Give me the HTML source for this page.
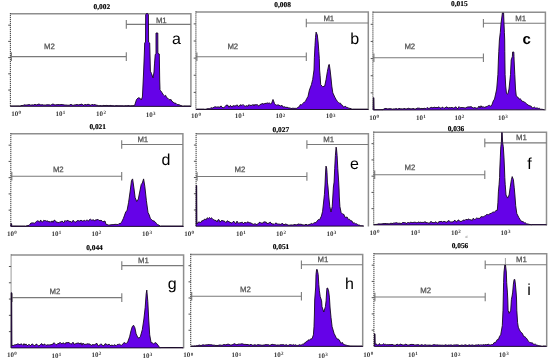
<!DOCTYPE html>
<html><head><meta charset="utf-8"><style>
html,body{margin:0;padding:0;background:#fff;}
svg{display:block;will-change:transform;} text{text-rendering:geometricPrecision;}
.m{font-family:"Liberation Sans",sans-serif;font-size:7.8px;fill:#555;stroke:#555;stroke-width:0.25px;text-anchor:middle;}
.l{font-family:"Liberation Sans",sans-serif;font-size:16px;fill:#000;}
.lb{font-family:"Liberation Sans",sans-serif;font-size:15px;font-weight:bold;fill:#000;}
.t{font-family:"Liberation Serif",serif;font-size:7.4px;font-weight:bold;fill:#000;stroke:#000;stroke-width:0.15px;text-anchor:middle;}
.x{font-family:"Liberation Serif",serif;font-size:7px;fill:#3a3a3a;font-weight:bold;}
.sup{font-size:5px;}
</style></head>
<body>
<svg width="550" height="359" viewBox="0 0 550 359">
<rect width="550" height="359" fill="#fff"/>
<path d="M10.4,13.8 H190.9 V106.7" fill="none" stroke="#8e8e8e" stroke-width="1.5"/>
<path d="M126.3,20.1 V28.7 M126.3,24.4 H190.9" fill="none" stroke="#7a7a7a" stroke-width="1.1"/>
<path d="M11.4,52.3 V60.9 M10.4,56.6 H126.3 M126.3,52.3 V60.9" fill="none" stroke="#7a7a7a" stroke-width="1.1"/>
<line x1="10.4" y1="13.1" x2="10.4" y2="106.3" stroke="#4a4a4a" stroke-width="1.1" stroke-dasharray="1.2 0.8"/>
<line x1="8.2" y1="25.16" x2="10.4" y2="25.16" stroke="#555" stroke-width="1"/>
<line x1="8.2" y1="41.39" x2="10.4" y2="41.39" stroke="#555" stroke-width="1"/>
<line x1="8.2" y1="57.62" x2="10.4" y2="57.62" stroke="#555" stroke-width="1"/>
<line x1="8.2" y1="73.84" x2="10.4" y2="73.84" stroke="#555" stroke-width="1"/>
<line x1="8.2" y1="90.07" x2="10.4" y2="90.07" stroke="#555" stroke-width="1"/>
<path d="M10.4,106.3 L11.47,105.9 L12.53,105.9 L13.6,105.9 L14.67,105.9 L15.73,105.9 L16.8,105.9 L17.87,105.9 L18.93,105.9 L20,106.1 L21,105.7 L22,105.33 L23,105.64 L24,104.9 L25,104.85 L26,105.25 L27,104.82 L28,104.99 L29,104.39 L30,104.95 L31,105.22 L32,104.78 L33,105.03 L34,104.93 L35,104.13 L36,105.01 L37,104.78 L38,104.37 L39,103.99 L40,104.6 L41,105.1 L42,104.57 L43,104.91 L44,105.13 L45,104.91 L46,105.19 L47,104.5 L48,105.04 L49,104.57 L50,105.22 L51,105.15 L52,104.13 L53,104.19 L54,104.3 L55,105.28 L56,104.6 L57,104.85 L58,104.43 L59,104.7 L60,104.7 L61,104.55 L62,104.5 L63,104.79 L64,104.79 L65,105.2 L66,104.91 L67,105.23 L68,105.13 L69,105.3 L70,104.88 L71,104.2 L72,105.12 L73,105.25 L74,105.17 L75,104.72 L76,104.91 L77,104.23 L78,105.06 L79,104.7 L80,104.6 L81,104.32 L82,104.04 L83,105.11 L84,105.3 L85,104.14 L86,105.07 L87,104.59 L88,104.27 L89,104.47 L90,105.08 L91,105.22 L92,104.21 L93,104.92 L94,104.8 L95,104.44 L96,105.28 L97,105.05 L98,105.63 L99,105.79 L100,105.6 L101,105.61 L102,105.89 L103,105.51 L104,105.39 L105,105.68 L106,105.38 L107,105.47 L108,105.59 L109,105.7 L110,105.47 L111,105.42 L112,105.85 L113,105.57 L114,105.9 L115,105.87 L116,105.62 L117,105.67 L118,105.7 L119,105.76 L120,105.7 L121,105.75 L122,105.73 L123,105.76 L124,105.9 L125,105.7 L126,105.67 L127,105.81 L128,105.57 L129,105.6 L130,105.9 L131,105.71 L132,105.72 L133,105.7 L134.6,105.5 L136.5,99.5 L138.3,97.8 L140,98.2 L141.2,100 L142.4,97 L142.8,89 L143.6,72 L144.4,52 L144.7,43 L145.5,42 L145.7,14.5 L147.05,13.23 L148.4,14.5 L148.6,42 L149.7,43 L150,55 L150.4,71.2 L151.5,73.5 L153,77.9 L154,72 L154.5,63.9 L155.2,55 L155.5,54 L156,53.4 L156,33 L157.8,33 L157.9,53.4 L159.3,54 L159.4,60 L159.7,80 L160,89.7 L160.5,90.5 L161.95,92.48 L163.4,94.9 L164.5,95.93 L165.6,95.3 L166.7,97.68 L167.8,98.2 L168.9,99.39 L170,99.9 L171,99.42 L172,101.55 L173,101.79 L174,103.01 L175,103.2 L176,103.33 L177,104.45 L178,104.86 L179,104.45 L180,105.4 L181,105.44 L182,105.9 L183,106.2 L184.13,105.9 L185.26,105.9 L186.39,105.9 L187.51,105.9 L188.64,105.9 L189.77,105.9 L190.9,106.4 Z" fill="#6502e8" stroke="#14061f" stroke-width="0.9" stroke-linejoin="round"/>
<text x="161.3" y="22.5" class="m">M1</text>
<text x="49.4" y="48.6" class="m">M2</text>
<text x="172" y="43.5" class="l">a</text>
<text x="101.9" y="8.5" class="t">0,002</text>
<text x="11.2" y="115.9" class="x">10<tspan class="sup" dx="0.35" dy="-1.9">0</tspan></text>
<text x="55.5" y="116.3" class="x">10<tspan class="sup" dx="0.35" dy="-1.9">1</tspan></text>
<text x="96.1" y="116.1" class="x">10<tspan class="sup" dx="0.35" dy="-1.9">2</tspan></text>
<text x="145.7" y="116.7" class="x">10<tspan class="sup" dx="0.35" dy="-1.9">3</tspan></text>
<path d="M195.9,11.9 H368.3 V109.9" fill="none" stroke="#8e8e8e" stroke-width="1.5"/>
<path d="M306.3,18.7 V27.3 M306.3,23 H368.3" fill="none" stroke="#7a7a7a" stroke-width="1.1"/>
<path d="M196.9,52.5 V61.1 M195.9,56.8 H306.3 M306.3,52.5 V61.1" fill="none" stroke="#7a7a7a" stroke-width="1.1"/>
<line x1="195.9" y1="11.2" x2="195.9" y2="109.5" stroke="#4a4a4a" stroke-width="1.1" stroke-dasharray="1.2 0.8"/>
<line x1="193.7" y1="23.89" x2="195.9" y2="23.89" stroke="#555" stroke-width="1"/>
<line x1="193.7" y1="41.01" x2="195.9" y2="41.01" stroke="#555" stroke-width="1"/>
<line x1="193.7" y1="58.13" x2="195.9" y2="58.13" stroke="#555" stroke-width="1"/>
<line x1="193.7" y1="75.25" x2="195.9" y2="75.25" stroke="#555" stroke-width="1"/>
<line x1="193.7" y1="92.38" x2="195.9" y2="92.38" stroke="#555" stroke-width="1"/>
<path d="M195.9,109.5 L196.91,109.1 L197.92,109.1 L198.93,109.1 L199.94,109.1 L200.96,109.1 L201.97,109.1 L202.98,109.1 L203.99,109.1 L205,109.4 L206,109.1 L207,108.88 L208,108.58 L209,108.87 L210,108.77 L211,107.54 L212,108.32 L213,107.77 L214,107.2 L215,106.77 L216,106.95 L217,107.26 L218,106.75 L219,107.19 L220,107.09 L221,105.86 L222,107.24 L223,107.7 L224,107.64 L225,106.74 L226,105.29 L227,105.12 L228,105.37 L229,107.4 L230,105.69 L231,105.8 L232,107.13 L233,105.56 L234,106.11 L235,105.77 L236,105.88 L237,104.72 L238,106.04 L239,106.68 L240,104.86 L241,105 L242,105.46 L243,104.45 L244,105.62 L245,106.42 L246,105.97 L247,105.62 L248,106.42 L249,104.55 L250,105.61 L251,105.07 L252,105.63 L253,104.33 L254,106.02 L255,104.22 L256,105.24 L257,104.22 L258,105.74 L259,105.96 L260,104.47 L261,104.27 L262,103.68 L263,103.61 L264,104.35 L265,103.06 L266,103.75 L267.1,102.72 L268.2,103.55 L269.3,102.75 L270.4,103.97 L271.5,103.54 L273,99.48 L274.5,103.54 L275.6,104.84 L276.7,105.2 L277.8,104.89 L278.9,105.02 L280,105.88 L281,105.99 L282,105.24 L283,107.2 L284,106.68 L285,106.98 L286,107.58 L287,107.08 L288,107.72 L289,108.01 L290,107.88 L291,108.53 L292,108.4 L293,108.09 L294,108.44 L295.1,108.25 L296.2,108.5 L297.3,107.79 L298.3,107.11 L299.3,106.61 L300.3,104.5 L301.3,104.92 L302.32,104.01 L303.35,103.06 L304.38,102.02 L305.4,101.4 L306.7,98.69 L308,96.4 L309.4,90.1 L311.4,84.7 L312.7,79.4 L314,70 L314.4,57.2 L315,45.5 L315.5,37.4 L316.1,32.1 L317.3,35 L318.1,42 L318.8,51.4 L319.3,58.4 L319.6,70 L320.1,75.4 L320.7,84.7 L322.7,86.7 L324.7,86.1 L326.1,79.4 L327.4,71.4 L328.8,64.7 L329.3,64.5 L330.1,70 L331,78 L331.8,86.1 L332.8,92.82 L334.8,97.14 L336.1,99.49 L337.4,101.4 L338.42,102.38 L339.45,103.13 L340.48,103.17 L341.5,104.92 L342.56,105.34 L343.62,107.29 L344.68,106.45 L345.74,106.37 L346.8,107.79 L347.86,107.5 L348.92,108.38 L349.98,108.31 L351.04,108.71 L352.1,109.18 L353.11,109.1 L354.12,109.1 L355.14,109.1 L356.15,109.1 L357.16,109.1 L358.18,109.1 L359.19,109.1 L360.2,109.1 L361.21,109.1 L362.23,109.1 L363.24,109.1 L364.25,109.1 L365.26,109.1 L366.28,109.1 L367.29,109.1 L368.3,109.5 Z" fill="#6502e8" stroke="#14061f" stroke-width="0.9" stroke-linejoin="round"/>
<text x="328.8" y="20.6" class="m">M1</text>
<text x="232.8" y="48.6" class="m">M2</text>
<text x="350.3" y="43.5" class="l">b</text>
<text x="282.6" y="7" class="t">0,008</text>
<text x="191.1" y="118.1" class="x">10<tspan class="sup" dx="0.35" dy="-1.9">0</tspan></text>
<text x="234.7" y="118.1" class="x">10<tspan class="sup" dx="0.35" dy="-1.9">1</tspan></text>
<text x="275.4" y="118.4" class="x">10<tspan class="sup" dx="0.35" dy="-1.9">2</tspan></text>
<text x="325.7" y="118.4" class="x">10<tspan class="sup" dx="0.35" dy="-1.9">3</tspan></text>
<path d="M372.9,12.3 H545.4 V110.4" fill="none" stroke="#8e8e8e" stroke-width="1.5"/>
<path d="M483.4,19 V27.6 M483.4,23.3 H545.4" fill="none" stroke="#7a7a7a" stroke-width="1.1"/>
<path d="M373.9,53.5 V62.1 M372.9,57.8 H483.4 M483.4,53.5 V62.1" fill="none" stroke="#7a7a7a" stroke-width="1.1"/>
<line x1="372.9" y1="11.6" x2="372.9" y2="110" stroke="#4a4a4a" stroke-width="1.1" stroke-dasharray="1.2 0.8"/>
<line x1="370.7" y1="24.3" x2="372.9" y2="24.3" stroke="#555" stroke-width="1"/>
<line x1="370.7" y1="41.44" x2="372.9" y2="41.44" stroke="#555" stroke-width="1"/>
<line x1="370.7" y1="58.58" x2="372.9" y2="58.58" stroke="#555" stroke-width="1"/>
<line x1="370.7" y1="75.72" x2="372.9" y2="75.72" stroke="#555" stroke-width="1"/>
<line x1="370.7" y1="92.86" x2="372.9" y2="92.86" stroke="#555" stroke-width="1"/>
<path d="M373.2,110 L373.4,97.7 L373.9,97.7 L374.1,109.7 L375.21,109.6 L376.33,109.6 L377.44,109.6 L378.55,109.6 L379.66,109.6 L380.77,109.6 L381.89,109.6 L383,109.7 L384,108.9 L385,108.54 L386,108.45 L387,108.76 L388,109.08 L389,108.61 L390,108.83 L391,108.64 L392,109.13 L393,109.22 L394,108.68 L395,109.26 L396,108.31 L397,109.05 L398,109.11 L399,108.35 L400,108.7 L401,108.91 L402,108.74 L403,109.15 L404,108.35 L405,108.69 L406,109.06 L407,108.78 L408,108.41 L409,108.15 L410,109.09 L411,108.56 L412,109.14 L413,108.16 L414,108.92 L415,108.91 L416,109.03 L417,107.96 L418,108.37 L419,107.98 L420,108.5 L421,108.75 L422,108.17 L423,108.92 L424,108.05 L425,108.56 L426,108.65 L427,107.6 L428,108.04 L429,108.66 L430,107.86 L431,107.49 L432,107.24 L433,108.15 L434,106.93 L435,107.68 L436,107.4 L437,107.54 L438,107.57 L439,106.74 L440,107.83 L441,108.36 L442,107.22 L443,107.28 L444,108.4 L445,107.8 L446,107.26 L447,106.82 L448,108.2 L449,107.5 L450,107.8 L451,107.71 L452,107.33 L453,107.96 L454,108.11 L455,107.3 L456,106.82 L457,108.53 L458,108.37 L459,106.6 L460,107.64 L461,107.86 L462,107.26 L463,107.91 L464,107.4 L465,108.37 L466,107.62 L467,107.23 L468,106.86 L469,106.99 L470,106.81 L471,106.76 L472,106.98 L473,108.23 L474,107.65 L475,107.6 L476,108.08 L477,108.22 L478,107.89 L479,105.99 L480,107.96 L481,105.72 L482,107.34 L483,106.5 L484,107.48 L485,107.11 L486,106.8 L487.23,106.45 L488.45,105.5 L489.67,105.42 L490.9,106.4 L492.1,104.32 L493.3,100.86 L494.5,99.1 L495.6,94.13 L496.7,89 L497.9,74.5 L498.4,60 L498.8,51.4 L499.4,40 L500.3,32.5 L501,23.5 L502.4,13 L503.6,13 L504,23.5 L504.4,32.5 L504.7,40 L504.8,51.4 L504.9,60 L505.1,74.5 L505.7,86 L506.5,93.5 L507.2,94.1 L508,93.5 L509,89 L510.5,74.5 L511.2,60 L512.4,56.4 L512.6,52 L513.8,52 L514,56.4 L514.1,60 L514.8,74.5 L515.5,89 L516.3,96.2 L517.75,97.04 L519.2,99.1 L520.2,98.8 L521.2,99.73 L522.2,101.42 L523.2,101.39 L524.2,102 L525.47,102.72 L526.73,103.96 L528,105 L529.06,105.57 L530.11,105.9 L531.17,106.14 L532.23,107.93 L533.29,107.72 L534.34,107.05 L535.4,108 L536.42,107.94 L537.44,108 L538.47,108.45 L539.49,108.35 L540.51,109.2 L541.53,109.24 L542.56,109.36 L543.58,109.6 L544.6,109.8 Z" fill="#6502e8" stroke="#14061f" stroke-width="0.9" stroke-linejoin="round"/>
<text x="520.6" y="21.2" class="m">M1</text>
<text x="409.8" y="48.6" class="m">M2</text>
<text x="522.6" y="43.6" class="lb">c</text>
<text x="459.4" y="6" class="t">0,015</text>
<text x="369.2" y="119.5" class="x">10<tspan class="sup" dx="0.35" dy="-1.9">0</tspan></text>
<text x="416" y="119.5" class="x">10<tspan class="sup" dx="0.35" dy="-1.9">1</tspan></text>
<text x="454.4" y="120.3" class="x">10<tspan class="sup" dx="0.35" dy="-1.9">2</tspan></text>
<text x="497.9" y="119.5" class="x">10<tspan class="sup" dx="0.35" dy="-1.9">3</tspan></text>
<path d="M10.8,133.8 H182.9 V226.8" fill="none" stroke="#8e8e8e" stroke-width="1.5"/>
<path d="M121.7,140.2 V148.8 M121.7,144.5 H182.9" fill="none" stroke="#7a7a7a" stroke-width="1.1"/>
<path d="M11.8,171.9 V180.5 M10.8,176.2 H121.7 M121.7,171.9 V180.5" fill="none" stroke="#7a7a7a" stroke-width="1.1"/>
<line x1="10.8" y1="133.1" x2="10.8" y2="226.4" stroke="#4a4a4a" stroke-width="1.1" stroke-dasharray="1.2 0.8"/>
<line x1="8.6" y1="145.17" x2="10.8" y2="145.17" stroke="#555" stroke-width="1"/>
<line x1="8.6" y1="161.42" x2="10.8" y2="161.42" stroke="#555" stroke-width="1"/>
<line x1="8.6" y1="177.66" x2="10.8" y2="177.66" stroke="#555" stroke-width="1"/>
<line x1="8.6" y1="193.91" x2="10.8" y2="193.91" stroke="#555" stroke-width="1"/>
<line x1="8.6" y1="210.15" x2="10.8" y2="210.15" stroke="#555" stroke-width="1"/>
<path d="M10.8,226.4 L10.9,223.71 L11.6,223.71 L11.8,226.19 L12.87,226 L13.94,226 L15.01,226 L16.08,226 L17.15,226 L18.22,226 L19.28,226 L20.35,226 L21.42,226 L22.49,226 L23.56,226 L24.63,226 L25.7,226.19 L26.77,225.67 L27.85,225.57 L28.93,225.38 L30,224.25 L31,222.89 L32,223.22 L33,222.64 L34.12,223.51 L35.24,222.61 L36.36,221.52 L37.48,220.84 L38.6,221.02 L39.64,222.22 L40.67,219.98 L41.71,221.76 L42.75,222 L43.78,220.23 L44.82,220.7 L45.85,220.66 L46.89,221.3 L47.93,220.86 L48.96,222.25 L50,221.25 L51,222.39 L52,220.83 L53,222.37 L54,220.25 L55,220.36 L56,221.87 L57,222.24 L58,222.33 L59,222.81 L60,221.56 L61,222.47 L62,220.91 L63,222.13 L64,222.58 L65,220.4 L66,221.42 L67,220.51 L68,220.46 L69,221.32 L70,221.35 L71,221.74 L72,222.47 L73,220.23 L74,221.15 L75,222.37 L76,221.72 L77,221.06 L78,220.25 L79,221.2 L80,220.81 L81.06,220.12 L82.12,221.04 L83.17,220.98 L84.23,220.24 L85.29,221.22 L86.35,220.13 L87.41,220.23 L88.47,221.1 L89.53,219.52 L90.58,219.28 L91.64,220.21 L92.7,219.95 L93.74,219.87 L94.79,221.11 L95.83,219.57 L96.87,219.98 L97.91,219.26 L98.96,220.37 L100,220.59 L101,220.29 L102,220.84 L103,221.85 L104,221.35 L105,221.03 L106,224.39 L107,224.41 L108,224.89 L109,225.23 L110,224.86 L111,224.86 L112,224.6 L113,224.68 L114.02,224.54 L115.04,224.3 L116.06,224.41 L117.08,224.4 L118.1,224.68 L119.1,223.45 L120.1,223.96 L121.1,222.79 L122.1,221.13 L123.35,218.49 L124.6,215.11 L125.8,211.65 L127,210.71 L128.6,202.3 L130.2,191 L131.5,180.5 L132.6,178.9 L133.9,187.8 L135.1,197.5 L136.7,201.5 L138.3,199.1 L139.9,191 L141.2,184.6 L142.3,183 L143.6,178.9 L144.8,186.2 L146.4,200.7 L148,212.42 L149.2,214.87 L150.4,218.56 L151.62,219.56 L152.85,220.83 L154.08,221.01 L155.3,222.1 L156.5,223.47 L157.7,224.88 L158.9,224.94 L160.1,226.19 L161.11,226 L162.13,226 L163.14,226 L164.15,226 L165.17,226 L166.18,226 L167.19,226 L168.2,226 L169.22,226 L170.23,226 L171.24,226 L172.26,226 L173.27,226 L174.28,226 L175.3,226 L176.31,226 L177.32,226 L178.33,226 L179.35,226 L180.36,226 L181.37,226 L182.39,226 L183.4,226.4 Z" fill="#6502e8" stroke="#14061f" stroke-width="0.9" stroke-linejoin="round"/>
<text x="142.8" y="141.9" class="m">M1</text>
<text x="58.3" y="172.2" class="m">M2</text>
<text x="161.4" y="164.7" class="l">d</text>
<text x="97.7" y="128.9" class="t">0,021</text>
<text x="7" y="235.5" class="x">10<tspan class="sup" dx="0.35" dy="-1.9">0</tspan></text>
<text x="51.5" y="236.3" class="x">10<tspan class="sup" dx="0.35" dy="-1.9">1</tspan></text>
<text x="91.5" y="235.5" class="x">10<tspan class="sup" dx="0.35" dy="-1.9">2</tspan></text>
<text x="142.1" y="236.1" class="x">10<tspan class="sup" dx="0.35" dy="-1.9">3</tspan></text>
<path d="M196.1,133.7 H368.4 V226.6" fill="none" stroke="#8e8e8e" stroke-width="1.5"/>
<path d="M306.9,140.2 V148.8 M306.9,144.5 H368.4" fill="none" stroke="#7a7a7a" stroke-width="1.1"/>
<path d="M197.1,172.2 V180.8 M196.1,176.5 H306.9 M306.9,172.2 V180.8" fill="none" stroke="#7a7a7a" stroke-width="1.1"/>
<line x1="196.1" y1="133" x2="196.1" y2="226.2" stroke="#4a4a4a" stroke-width="1.1" stroke-dasharray="1.2 0.8"/>
<line x1="193.9" y1="145.06" x2="196.1" y2="145.06" stroke="#555" stroke-width="1"/>
<line x1="193.9" y1="161.29" x2="196.1" y2="161.29" stroke="#555" stroke-width="1"/>
<line x1="193.9" y1="177.52" x2="196.1" y2="177.52" stroke="#555" stroke-width="1"/>
<line x1="193.9" y1="193.74" x2="196.1" y2="193.74" stroke="#555" stroke-width="1"/>
<line x1="193.9" y1="209.97" x2="196.1" y2="209.97" stroke="#555" stroke-width="1"/>
<path d="M196.1,226.2 L196.2,185.5 L196.7,185.5 L196.9,224 L197.92,222.45 L198.93,222.01 L199.95,222.22 L200.97,222.48 L201.98,220.56 L203,221 L204.05,219.41 L205.1,219.14 L206.15,219.92 L207.2,217.75 L208.25,218.71 L209.3,217.5 L210.44,218.52 L211.58,217.76 L212.72,219.39 L213.86,219.76 L215,220.5 L216,220.37 L217,221.99 L218,219.74 L219,219.65 L220,222.14 L221,220.85 L222,220.42 L223,220.86 L224,221.05 L225,221.5 L226,222.75 L227,220.88 L228,220.96 L229,221.99 L230,221.96 L231,223.08 L232,222.85 L233,221.66 L234,221.33 L235,223.04 L236,223.5 L237,221.08 L238,222.98 L239,223.39 L240,222.5 L241,222.96 L242,221.9 L243,223.47 L244,223.36 L245,222.04 L246,223.27 L247,222.24 L248,221.87 L249,222.69 L250,222.76 L251,222.99 L252,223.64 L253,224.13 L254,224.45 L255,223.5 L256,224.47 L257,224.44 L258,223.9 L259,222.62 L260,222.17 L261,223.22 L262,222.92 L263,223.15 L264,221.54 L265,222.5 L266,221.8 L267,223.79 L268,223.06 L269,223.41 L270,221.96 L271,222.85 L272,224.18 L273,223.65 L274,224.5 L275,223.5 L276,222.97 L277,223.61 L278,224.38 L279,223.8 L280,224.51 L281,224.2 L282,223.59 L283,223.69 L284,225.1 L285,223.98 L286,224.21 L287,224.5 L288,225.04 L289,225.27 L290,225 L291,224.93 L292,224.9 L293,225.16 L294,224.55 L295,224.6 L296,224.84 L297,224.82 L298,224.01 L299,224.04 L300,224.5 L301,224.01 L302,224.81 L303,224.76 L304,225.14 L305,224.86 L306,224.17 L307,224.86 L308,225.16 L309,224.29 L310,224.5 L311.2,223.42 L312.4,223.9 L313.6,223.23 L314.8,222.56 L316,222.7 L317.2,220.86 L318.4,219.52 L319.6,219.7 L321.4,216.1 L322.6,211.3 L323.5,203 L324.4,194.6 L325,185 L325.4,176 L325.7,170 L326,166.1 L326.6,168 L327,172.7 L327.4,182.1 L328,187 L328.8,197 L329.8,206.6 L331,212 L332.2,206.6 L332.8,197 L333.4,187 L334.1,182.1 L334.7,168.7 L335.4,155.4 L336.1,147.1 L336.5,149 L337.1,155.4 L337.8,168.7 L338.7,182.1 L339.1,190 L339.3,197 L339.9,206.6 L341.1,212.5 L342.9,214.3 L343.9,214.32 L344.9,217.25 L345.9,217.3 L347.1,217.03 L348.3,219.4 L349.5,219.24 L350.7,220.9 L351.9,220.85 L353.1,223.23 L354.3,222.66 L355.5,223.9 L356.5,223.69 L357.5,224.44 L358.5,225.02 L359.5,225.12 L360.5,225.63 L361.5,225.7 L362.6,225.8 L363.7,226.1 Z" fill="#6502e8" stroke="#14061f" stroke-width="0.9" stroke-linejoin="round"/>
<text x="328.7" y="142.1" class="m">M1</text>
<text x="240" y="172.3" class="m">M2</text>
<text x="350" y="168.8" class="l">e</text>
<text x="280.85" y="131.8" class="t">0,027</text>
<text x="184.2" y="236.3" class="x">10<tspan class="sup" dx="0.35" dy="-1.9">0</tspan></text>
<text x="235.9" y="236.3" class="x">10<tspan class="sup" dx="0.35" dy="-1.9">1</tspan></text>
<text x="276.1" y="235.5" class="x">10<tspan class="sup" dx="0.35" dy="-1.9">2</tspan></text>
<text x="326.4" y="236.2" class="x">10<tspan class="sup" dx="0.35" dy="-1.9">3</tspan></text>
<path d="M373.7,132.3 H546.5 V225.3" fill="none" stroke="#8e8e8e" stroke-width="1.5"/>
<path d="M484.8,138.55 V147.15 M484.8,142.85 H546.5" fill="none" stroke="#7a7a7a" stroke-width="1.1"/>
<path d="M374.7,170.5 V179.1 M373.7,174.8 H484.8 M484.8,170.5 V179.1" fill="none" stroke="#7a7a7a" stroke-width="1.1"/>
<line x1="373.7" y1="131.6" x2="373.7" y2="224.9" stroke="#4a4a4a" stroke-width="1.1" stroke-dasharray="1.2 0.8"/>
<line x1="371.5" y1="143.67" x2="373.7" y2="143.67" stroke="#555" stroke-width="1"/>
<line x1="371.5" y1="159.92" x2="373.7" y2="159.92" stroke="#555" stroke-width="1"/>
<line x1="371.5" y1="176.16" x2="373.7" y2="176.16" stroke="#555" stroke-width="1"/>
<line x1="371.5" y1="192.41" x2="373.7" y2="192.41" stroke="#555" stroke-width="1"/>
<line x1="371.5" y1="208.65" x2="373.7" y2="208.65" stroke="#555" stroke-width="1"/>
<path d="M373.7,224.9 L374.77,224.5 L375.85,224.46 L376.93,224.39 L378,224.07 L379,223.72 L380,224.12 L381,223.83 L382,223.97 L383,223.55 L384,223.64 L385,223.52 L386,223.52 L387,223.87 L388,223.56 L389,224.05 L390,223.59 L391,223.13 L392,223.54 L393,223.39 L394,222.85 L395,223.29 L396,222.55 L397,222.99 L398,223.17 L399,223.34 L400,223.02 L401,223.69 L402,223.15 L403,222.2 L404,222.88 L405,222.49 L406,223.27 L407,223.49 L408,222.12 L409,223.25 L410,222.41 L411,222.18 L412,222.63 L413,222.54 L414,222.27 L415,222.2 L416,222.48 L417,222.93 L418,221.92 L419,222.28 L420,222.5 L421,221.97 L422,222.9 L423,221.92 L424,222.88 L425,221.42 L426,223.07 L427,222.17 L428,223.2 L429,222.89 L430,222.97 L431,221.2 L432,222.73 L433,222.22 L434,222.99 L435,222.26 L436,221.74 L437,222.98 L438,223.17 L439,221.36 L440,221.98 L441,221.1 L442,221.76 L443,222.24 L444,220.99 L445,222 L446,221.85 L447,222.47 L448,220.75 L449,220.69 L450,221.63 L451,222.2 L452,221.73 L453,222.1 L454,220.81 L455,220.17 L456,221.84 L457,221.69 L458,220.04 L459,220.15 L460,221.71 L461,221.15 L462,221.44 L463,220.11 L464,220.11 L465,220.38 L466,219.21 L467,219.8 L468,219.5 L469,218.85 L470,219.9 L471.1,219.74 L472.2,220.6 L473.3,218.13 L474.4,219.51 L475.5,219.08 L476.6,218 L477.7,218.34 L478.79,218.37 L479.87,218.36 L480.96,216.69 L482.04,216.73 L483.13,216.96 L484.21,216.13 L485.3,215.94 L486.48,214.52 L487.65,214.49 L488.82,214.69 L490,213.54 L491.12,213.45 L492.25,212.46 L493.38,212.03 L494.5,212.29 L495.9,210.44 L497.3,210.31 L497.9,202.7 L498.4,191.9 L499.1,184.3 L499.6,177.4 L499.8,169 L500.3,157.9 L500.8,146.7 L501.4,142.5 L501.7,132.6 L502.2,132.6 L502.6,142.5 L503.3,146.7 L504,157.9 L504.5,169 L504.8,177.4 L505.2,184.3 L506,195 L507.6,198.1 L509.1,195 L510.2,187.3 L511.4,179.7 L512.2,176.6 L513.4,179.7 L514.2,187.3 L514.9,195 L515.7,205.7 L516.8,213.54 L518.8,217.5 L519.9,219.29 L521,220.94 L522.1,221.57 L523.25,221.6 L524.4,222.97 L525.55,222.83 L526.7,223.96 L527.85,223.95 L529,224.37 L530.15,224.47 L531.3,224.69 L532.31,224.5 L533.33,224.5 L534.34,224.5 L535.35,224.5 L536.37,224.5 L537.38,224.5 L538.39,224.5 L539.41,224.5 L540.42,224.5 L541.43,224.5 L542.45,224.5 L543.46,224.5 L544.47,224.5 L545.49,224.5 L546.5,224.9 Z" fill="#6502e8" stroke="#14061f" stroke-width="0.9" stroke-linejoin="round"/>
<text x="521.4" y="140.2" class="m">M1</text>
<text x="409.9" y="169.8" class="m">M2</text>
<text x="527.3" y="169" class="l">f</text>
<text x="456" y="130.6" class="t">0,036</text>
<text x="369.6" y="234.5" class="x">10<tspan class="sup" dx="0.35" dy="-1.9">0</tspan></text>
<text x="410.5" y="234.5" class="x">10<tspan class="sup" dx="0.35" dy="-1.9">1</tspan></text>
<text x="451" y="234.5" class="x">10<tspan class="sup" dx="0.35" dy="-1.9">2</tspan></text>
<text x="500.6" y="234.5" class="x">10<tspan class="sup" dx="0.35" dy="-1.9">3</tspan></text>
<path d="M11.1,255.1 H183.6 V348.3" fill="none" stroke="#8e8e8e" stroke-width="1.5"/>
<path d="M121.8,261.3 V269.9 M121.8,265.6 H183.6" fill="none" stroke="#7a7a7a" stroke-width="1.1"/>
<path d="M12.1,293.3 V301.9 M11.1,297.6 H121.8 M121.8,293.3 V301.9" fill="none" stroke="#7a7a7a" stroke-width="1.1"/>
<line x1="11.1" y1="254.4" x2="11.1" y2="347.9" stroke="#4a4a4a" stroke-width="1.1" stroke-dasharray="1.2 0.8"/>
<line x1="8.9" y1="266.5" x2="11.1" y2="266.5" stroke="#555" stroke-width="1"/>
<line x1="8.9" y1="282.78" x2="11.1" y2="282.78" stroke="#555" stroke-width="1"/>
<line x1="8.9" y1="299.06" x2="11.1" y2="299.06" stroke="#555" stroke-width="1"/>
<line x1="8.9" y1="315.34" x2="11.1" y2="315.34" stroke="#555" stroke-width="1"/>
<line x1="8.9" y1="331.62" x2="11.1" y2="331.62" stroke="#555" stroke-width="1"/>
<path d="M11.1,347.9 L11.2,292.7 L11.7,292.7 L11.9,345.79 L12.91,345.25 L13.93,345.5 L14.94,344.56 L15.95,344.93 L16.96,344.19 L17.98,343.87 L18.99,344.35 L20,344.74 L21,343.79 L22,344.29 L23,345.38 L24,343.62 L25,345.1 L26,343.9 L27,345.54 L28,345.41 L29,344.13 L30,345.7 L31,345.38 L32,343.83 L33,344.65 L34,345.37 L35,345.91 L36,344.12 L37,344.33 L38,345.58 L39,346.04 L40,344.95 L41,343.88 L42,343.76 L43,345.34 L44,344.14 L45,344.24 L46,345.42 L47,345 L48,344.7 L49,345.15 L50,344.71 L51,344.83 L52,344.31 L53,344.1 L54,342.63 L55,343.69 L56,344.72 L57,344.69 L58,343.2 L59,343.88 L60,342.26 L61,343.48 L62,343.76 L63,342.87 L64,343.15 L65,344.21 L66,342.37 L67,343.15 L68,342.16 L69,342.89 L70,343.16 L71,344.22 L72,343.59 L73,342.15 L74,344.37 L75,343.92 L76,343.63 L77,343.1 L78,343.2 L79,342.97 L80,344.18 L81,342.76 L82,345.16 L83,343.04 L84,344.46 L85,344.21 L86,344.44 L87,343.92 L88,343.74 L89,344.19 L90,343.94 L91,345.65 L92,344.83 L93,344.54 L94,344.95 L95,344.55 L96,343.69 L97,343.39 L98,345.88 L99,345.58 L100,344.74 L101,343.74 L102,345.06 L103,345.51 L104,345.8 L105,343.78 L106,343.98 L107,344.63 L108,345.16 L109,343.94 L110,345.41 L111,345.57 L112,344.87 L113,345.82 L114,344.78 L115,345.06 L116.11,345.72 L117.23,344.5 L118.34,344.4 L119.46,344.2 L120.57,344.93 L121.69,345.24 L122.8,344.11 L124.03,342.47 L125.25,343.29 L126.47,343.4 L127.7,342 L129.6,336.84 L131,330.74 L132.2,326.8 L133.5,325.2 L134.9,327.8 L136.1,333.79 L138,337.9 L139.15,337.87 L140.3,336.84 L142.3,329.7 L143.9,319 L145.2,307.3 L146.2,293.6 L146.8,290.1 L147.8,301.4 L148.7,319 L149.7,334.84 L151.1,342.64 L152.35,342.68 L153.6,344.11 L154.75,343.02 L155.9,342.64 L157.9,345.06 L159.8,347.79 L160.82,347.5 L161.83,347.5 L162.85,347.5 L163.87,347.5 L164.89,347.5 L165.9,347.5 L166.92,347.5 L167.94,347.5 L168.96,347.5 L169.97,347.5 L170.99,347.5 L172.01,347.5 L173.03,347.5 L174.04,347.5 L175.06,347.5 L176.08,347.5 L177.1,347.5 L178.11,347.5 L179.13,347.5 L180.15,347.5 L181.17,347.5 L182.18,347.5 L183.2,347.9 Z" fill="#6502e8" stroke="#14061f" stroke-width="0.9" stroke-linejoin="round"/>
<text x="143.5" y="263.3" class="m">M1</text>
<text x="54.9" y="294.4" class="m">M2</text>
<text x="167.8" y="289.4" class="l">g</text>
<text x="94.5" y="250.1" class="t">0,044</text>
<text x="7" y="356.7" class="x">10<tspan class="sup" dx="0.35" dy="-1.9">0</tspan></text>
<text x="51.5" y="358" class="x">10<tspan class="sup" dx="0.35" dy="-1.9">1</tspan></text>
<text x="91.5" y="357.2" class="x">10<tspan class="sup" dx="0.35" dy="-1.9">2</tspan></text>
<text x="142.4" y="358" class="x">10<tspan class="sup" dx="0.35" dy="-1.9">3</tspan></text>
<path d="M190.7,254.4 H362.7 V346.8" fill="none" stroke="#8e8e8e" stroke-width="1.5"/>
<path d="M301.4,260.4 V269 M301.4,264.7 H362.7" fill="none" stroke="#7a7a7a" stroke-width="1.1"/>
<path d="M191.7,292 V300.6 M190.7,296.3 H301.4 M301.4,292 V300.6" fill="none" stroke="#7a7a7a" stroke-width="1.1"/>
<line x1="190.7" y1="253.7" x2="190.7" y2="346.4" stroke="#4a4a4a" stroke-width="1.1" stroke-dasharray="1.2 0.8"/>
<line x1="188.5" y1="265.7" x2="190.7" y2="265.7" stroke="#555" stroke-width="1"/>
<line x1="188.5" y1="281.84" x2="190.7" y2="281.84" stroke="#555" stroke-width="1"/>
<line x1="188.5" y1="297.98" x2="190.7" y2="297.98" stroke="#555" stroke-width="1"/>
<line x1="188.5" y1="314.12" x2="190.7" y2="314.12" stroke="#555" stroke-width="1"/>
<line x1="188.5" y1="330.26" x2="190.7" y2="330.26" stroke="#555" stroke-width="1"/>
<path d="M190.7,346.4 L191.73,346 L192.77,346 L193.8,346 L194.83,345.86 L195.87,345.97 L196.9,345.53 L197.93,345.77 L198.97,345.03 L200,345.19 L201,345.66 L202,345.08 L203,344.84 L204,344.99 L205,345.27 L206,344.65 L207,345 L208,344.6 L209,344.65 L210,344.74 L211,344.79 L212,344.82 L213,345.35 L214,344.95 L215,345.42 L216,345.46 L217,345.45 L218,345.5 L219,345.08 L220,344.98 L221,345.15 L222,345.37 L223,344.94 L224,344.42 L225,344.86 L226,344.84 L227,344.35 L228,344.2 L229,344.28 L230,344.95 L231,345.09 L232,344.84 L233,344.48 L234,343.87 L235,343.79 L236,344.74 L237,344.52 L238,344.37 L239,343.89 L240,344.38 L241,343.8 L242,343.91 L243,343.86 L244,344.61 L245,344.18 L246,344.58 L247,344.41 L248,344.61 L249,344.92 L250,344.99 L251,344.1 L252,345.27 L253,345.14 L254,345.11 L255,344.62 L256,345.31 L257,345.14 L258,344.39 L259,345.01 L260,344.78 L261,345.24 L262,345.12 L263,345.32 L264,344.86 L265,345.05 L266,344.31 L267,345.05 L268,344.42 L269,345.14 L270,345.37 L271,344.73 L272,344.38 L273,344.37 L274,344.94 L275,344.53 L276,345.22 L277,345.08 L278,344.96 L279,345.17 L280,344.98 L281.01,344.58 L282.03,344.93 L283.04,344.46 L284.06,345.03 L285.07,345.31 L286.09,344.59 L287.1,345.19 L288.11,345.54 L289.13,344.78 L290.14,344.65 L291.16,344.7 L292.17,345.36 L293.19,344.5 L294.2,345.29 L295.21,344.71 L296.23,345.27 L297.24,345.42 L298.26,345.37 L299.27,344.63 L300.29,345.03 L301.3,344.98 L302.3,344.19 L303.3,344.7 L304.3,342.98 L305.3,342.96 L306.32,341.41 L307.35,341.35 L308.38,339.83 L309.4,340.22 L310.7,338.84 L312,338.91 L313.4,334.86 L314,326.7 L314.4,315 L314.7,300 L315.3,292 L315.7,287 L316,274.5 L316.6,269.5 L317.2,269.5 L318.2,274.5 L318.8,284.6 L319.4,290.8 L320.2,296.5 L321.6,300.8 L322,306.7 L323.8,312 L325.4,306.7 L326.1,300.8 L326.6,292 L327,288 L327.6,288 L328.6,290.8 L329.4,297.1 L330.1,308 L331,317.4 L332.1,326.7 L334.1,333.44 L336.1,337.49 L337.1,339.03 L338.1,339.06 L339.1,339.71 L340.1,341.54 L341.18,343.36 L342.26,342.29 L343.34,344.26 L344.42,344.6 L345.5,344.98 L346.62,345.29 L347.75,345.6 L348.88,345.79 L350,346 L351.06,346 L352.12,346 L353.18,346 L354.23,346 L355.29,346 L356.35,346 L357.41,346 L358.47,346 L359.52,346 L360.58,346 L361.64,346 L362.7,346.4 Z" fill="#6502e8" stroke="#14061f" stroke-width="0.9" stroke-linejoin="round"/>
<text x="322.9" y="262.2" class="m">M1</text>
<text x="245.4" y="292.4" class="m">M2</text>
<text x="345" y="289.3" class="l">h</text>
<text x="281" y="249.1" class="t">0,051</text>
<text x="183.3" y="357.4" class="x">10<tspan class="sup" dx="0.35" dy="-1.9">0</tspan></text>
<text x="231.5" y="357.4" class="x">10<tspan class="sup" dx="0.35" dy="-1.9">1</tspan></text>
<text x="273.7" y="357.2" class="x">10<tspan class="sup" dx="0.35" dy="-1.9">2</tspan></text>
<text x="317.9" y="358" class="x">10<tspan class="sup" dx="0.35" dy="-1.9">3</tspan></text>
<path d="M373.9,253.8 H546.7 V346.8" fill="none" stroke="#8e8e8e" stroke-width="1.5"/>
<path d="M485.2,260.4 V269 M485.2,264.7 H546.7" fill="none" stroke="#7a7a7a" stroke-width="1.1"/>
<path d="M374.9,292.7 V301.3 M373.9,297 H485.2 M485.2,292.7 V301.3" fill="none" stroke="#7a7a7a" stroke-width="1.1"/>
<line x1="373.9" y1="253.1" x2="373.9" y2="346.4" stroke="#4a4a4a" stroke-width="1.1" stroke-dasharray="1.2 0.8"/>
<line x1="371.7" y1="265.17" x2="373.9" y2="265.17" stroke="#555" stroke-width="1"/>
<line x1="371.7" y1="281.42" x2="373.9" y2="281.42" stroke="#555" stroke-width="1"/>
<line x1="371.7" y1="297.66" x2="373.9" y2="297.66" stroke="#555" stroke-width="1"/>
<line x1="371.7" y1="313.91" x2="373.9" y2="313.91" stroke="#555" stroke-width="1"/>
<line x1="371.7" y1="330.15" x2="373.9" y2="330.15" stroke="#555" stroke-width="1"/>
<path d="M374.3,346.4 L374.5,333.77 L375,333.77 L375.2,344.26 L376.26,343.81 L377.31,345.02 L378.37,345.05 L379.43,343.52 L380.49,344.91 L381.54,344.7 L382.6,344.65 L383.66,343.58 L384.71,344.92 L385.77,344.21 L386.83,344.9 L387.89,344.49 L388.94,344.85 L390,344.46 L391,344.83 L392,344.24 L393,344.76 L394,345.23 L395,345.12 L396,345.16 L397,343.98 L398,344.79 L399,345.1 L400,344.34 L401,343.99 L402,344.99 L403,344.75 L404,345.32 L405,344.36 L406,344.15 L407,344.83 L408,345.2 L409,344.95 L410,344.77 L411,344.28 L412,344.6 L413,344.34 L414,344.71 L415,345.19 L416,344.8 L417,344.92 L418,344.56 L419,344.93 L420,345.5 L421,344.82 L422,344.73 L423,345.19 L424,345.42 L425,344.51 L426,345.17 L427,345.14 L428,345.16 L429,345.08 L430,345.08 L431,345.27 L432,345.46 L433,344.84 L434,344.73 L435,344.74 L436,345.16 L437,344.85 L438,345.09 L439,345.15 L440,345.07 L441,345.26 L442,345.17 L443,345.18 L444,345.43 L445,345.03 L446,344.69 L447,345.57 L448,345.03 L449,345.07 L450,345.18 L451,344.8 L452,345.25 L453,345.47 L454,344.74 L455,345.22 L456,344.69 L457,345.06 L458,344.79 L459,345.37 L460,345.56 L461,345.16 L462,344.98 L463,345.36 L464,345.43 L465,344.66 L466,345.08 L467,345.33 L468,345.52 L469,344.73 L470,345.08 L471,345.48 L472,344.77 L473,345.16 L474,345.4 L475,345.37 L476,344.8 L477,345.23 L478,344.83 L479,344.66 L480,345.48 L481,344.42 L482,345.49 L483,344.37 L484,345.31 L485,344.6 L486,344.68 L487,344.87 L488.12,344.12 L489.25,344.77 L490.38,344.94 L491.5,344.46 L492.8,344.54 L494.1,342.62 L495.4,342.73 L496.4,341.03 L497.4,339.41 L498.4,339.58 L499.55,336.29 L500.7,334.89 L502.3,325.6 L503,310.3 L503.4,292.1 L503.6,282.7 L504,272 L504.8,265 L505.5,265 L506.3,272 L506.7,282.7 L507.4,292.1 L507.8,300 L508.1,310.3 L509.2,313.4 L510.7,310.3 L511.4,299.6 L512.1,296 L512.7,292.1 L513.4,284.1 L514.1,279.5 L514.8,279.5 L515.4,284.1 L516.1,292.1 L516.5,298 L516.8,310.3 L517.6,322.6 L518.3,327.2 L519.45,329.82 L520.6,331.83 L521.63,332.58 L522.67,334.04 L523.7,336.52 L524.85,336.66 L526,337.73 L527.15,339.17 L528.3,341.2 L529.32,342.17 L530.33,342.49 L531.35,342.87 L532.37,342.75 L533.38,344.28 L534.4,344.26 L535.5,344.19 L536.6,345.12 L537.7,345.31 L538.8,345.65 L539.9,345.83 L541,346 L542.1,346.4 L543.2,346 L544.3,346 L545.4,346 L546.5,346.4 Z" fill="#6502e8" stroke="#14061f" stroke-width="0.9" stroke-linejoin="round"/>
<text x="521.4" y="261.9" class="m">M1</text>
<text x="425.6" y="292.6" class="m">M2</text>
<text x="527.2" y="294.6" class="l">i</text>
<text x="460" y="248.4" class="t">0,056</text>
<text x="363.3" y="356.7" class="x">10<tspan class="sup" dx="0.35" dy="-1.9">0</tspan></text>
<text x="407.9" y="356.7" class="x">10<tspan class="sup" dx="0.35" dy="-1.9">1</tspan></text>
<text x="450.6" y="357.4" class="x">10<tspan class="sup" dx="0.35" dy="-1.9">2</tspan></text>
<text x="498.8" y="356.7" class="x">10<tspan class="sup" dx="0.35" dy="-1.9">3</tspan></text>
<line x1="505.4" y1="258" x2="505.4" y2="264.5" stroke="#888" stroke-width="0.8"/>
<text x="465.6" y="237.6" style="font-family:Liberation Sans,sans-serif;font-size:3.5px;fill:#666">d</text>
</svg>
</body></html>
